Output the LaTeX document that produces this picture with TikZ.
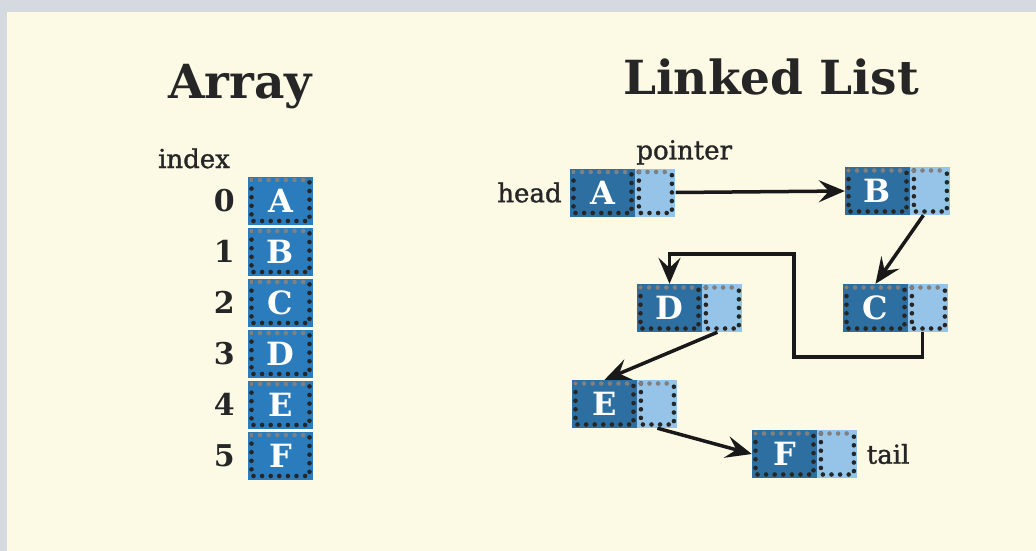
\documentclass[tikz,border=0pt]{standalone}
\usepackage{fontspec}
\setmainfont{DejaVu Serif}
\newfontfamily\labelfont[FakeBold=1.3]{DejaVu Serif}
\usetikzlibrary{arrows.meta,positioning}

\definecolor{paper}{RGB}{252,249,229}
\definecolor{frame}{RGB}{212,218,224}
\definecolor{slotblue}{RGB}{43,124,188}
\definecolor{datablue}{RGB}{44,111,160}
\definecolor{ptrblue}{RGB}{150,196,232}

\begin{document}
\begin{tikzpicture}[x=1pt,y=-1pt]
\tikzstyle{cell}=[rectangle, inner sep=0pt, minimum height=48pt, text=white,
  font=\fontsize{32}{34}\selectfont\bfseries,
  path picture={
    \draw[line width=4.6pt, line cap=round, dash pattern=on 0pt off 8.6pt, black!85]
      ([shift={(3.5pt,-3.5pt)}]path picture bounding box.north west)
      -- ([shift={(3.5pt,3.5pt)}]path picture bounding box.south west)
      -- ([shift={(-3.5pt,3.5pt)}]path picture bounding box.south east)
      -- ([shift={(-3.5pt,-3.5pt)}]path picture bounding box.north east);
    \draw[line width=4.6pt, line cap=round, dash pattern=on 0pt off 8.6pt, gray]
      ([shift={(3.5pt,-3.5pt)}]path picture bounding box.north west)
      -- ([shift={(-3.5pt,-3.5pt)}]path picture bounding box.north east);
  }]
\tikzstyle{arrcell}=[cell, fill=slotblue, minimum width=65pt]
\tikzstyle{datacell}=[cell, fill=datablue, minimum width=65pt]
\tikzstyle{ptrcell}=[cell, fill=ptrblue, minimum width=40pt]
\tikzstyle{tag}=[inner sep=1pt, text=black!85, font=\labelfont\fontsize{26}{28}\selectfont]
\tikzstyle{idx}=[inner sep=1pt, anchor=east, text=black!85, font=\fontsize{30}{32}\selectfont\bfseries]
\tikzstyle{heading}=[inner sep=0pt, anchor=base, text=black!85, font=\fontsize{47}{50}\selectfont\bfseries]
\tikzstyle{nextarrow}=[line width=3.5pt, black!90, -{Stealth[length=26pt,width=22pt,inset=10pt]}]

% paper and frame
\fill[frame] (0,0) rectangle (1036,551);
\fill[paper] (7,12) rectangle (1036,551);
\useasboundingbox (0,0) rectangle (1036,551);

\draw (240,98) node (arrtitle) [heading] {Array};
\draw (771,94) node (listtitle) [heading] {Linked List};

% array
\draw (194,168) node (idxlabel) [tag, anchor=base] {index};
\draw (280.5,200.5) node (a0) [arrcell] {A};
\draw (280.5,251.5) node (a1) [arrcell] {B};
\draw (280.5,302.5) node (a2) [arrcell] {C};
\draw (280.5,353.5) node (a3) [arrcell] {D};
\draw (280.5,404.5) node (a4) [arrcell] {E};
\draw (280.5,455.5) node (a5) [arrcell] {F};
\draw (236,200.5) node (i0) [idx] {0};
\draw (236,251.5) node (i1) [idx] {1};
\draw (236,302.5) node (i2) [idx] {2};
\draw (236,353.5) node (i3) [idx] {3};
\draw (236,404.5) node (i4) [idx] {4};
\draw (236,455.5) node (i5) [idx] {5};

% linked list
\draw (602.5,192.5) node (nA) [datacell] {A};
\node (pA) [ptrcell, right=0pt of nA] {};
\draw (877.5,191) node (nB) [datacell] {B};
\node (pB) [ptrcell, right=0pt of nB] {};
\draw (875.5,308) node (nC) [datacell] {C};
\node (pC) [ptrcell, right=0pt of nC] {};
\draw (669.5,308) node (nD) [datacell] {D};
\node (pD) [ptrcell, right=0pt of nD] {};
\draw (604.5,404) node (nE) [datacell] {E};
\node (pE) [ptrcell, right=0pt of nE] {};
\draw (784.5,454) node (nF) [datacell] {F};
\node (pF) [ptrcell, right=0pt of nF] {};

\node (head) [tag, left=7pt of nA] {head};
\node (pointer) [tag, anchor=base west] at ([yshift=9pt]pA.north west) {pointer};
\node (tail) [tag, right=8pt of pF] {tail};

\draw[nextarrow] (pA.east) -- (nB.west);
\draw[nextarrow] ([xshift=-7pt]pB.south) -- (nC.north);
\coordinate (bendlow) at (794,357);
\coordinate (bendhigh) at (794,254);
\draw[nextarrow] ([xshift=-6pt]pC.south) |- (bendlow) -- (bendhigh) -| (nD.north);
\draw[nextarrow] ([xshift=-5pt]pD.south) -- (nE.north);
\draw[nextarrow] (pE.south) -- (nF.west);
\end{tikzpicture}
\end{document}
